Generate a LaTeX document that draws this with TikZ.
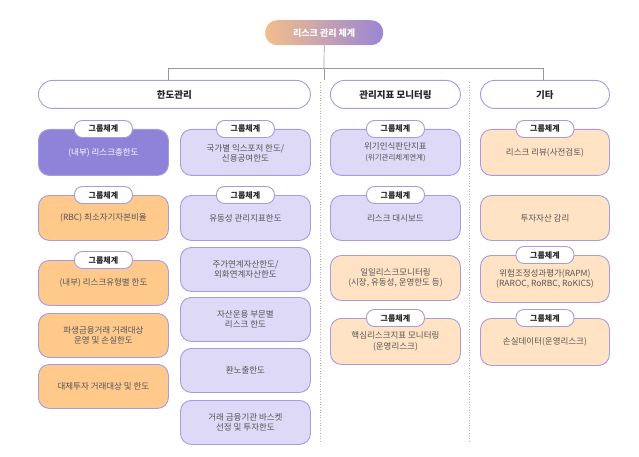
\documentclass[tikz,border=0pt]{standalone}
\usepackage{fontspec}
\setmainfont{Noto Sans CJK KR}
\usetikzlibrary{positioning}
\definecolor{pur}{HTML}{A79BE0}
\definecolor{purfill}{HTML}{8F82D9}
\definecolor{lav}{HTML}{DDD9F6}
\definecolor{org}{HTML}{FFC98C}
\definecolor{orgl}{HTML}{FFE3C4}
\definecolor{txt}{HTML}{555555}
\definecolor{ttl}{HTML}{F2BE8C}
\definecolor{ttr}{HTML}{9A86D4}
\tikzset{
 box/.style={draw=pur,line width=0.9pt,rounded corners=11pt,minimum width=130pt,anchor=north west,align=center,text=txt,font=\fontsize{8.5}{10.5}\selectfont,inner sep=2pt},
 hdr/.style={draw=pur,line width=0.9pt,rounded corners=14pt,fill=white,minimum height=28pt,anchor=north west,font=\bfseries\fontsize{9.5}{11}\selectfont,text=black!85},
 badge/.style={draw=pur,line width=0.9pt,fill=white,rounded corners=8pt,minimum width=58pt,minimum height=17pt,inner sep=1pt,font=\bfseries\fontsize{8}{9}\selectfont,text=black!85},
 conn/.style={draw=black!40,line width=0.7pt},
 sep/.style={draw=black!30,dotted,line width=0.6pt}
}
\begin{document}
\begin{tikzpicture}[x=1pt,y=-1pt]
\useasboundingbox (0,0) rectangle (639,457);
% title
\node[rounded corners=12pt,minimum width=118pt,minimum height=25pt,left color=ttl,right color=ttr,text=white,font=\bfseries\fontsize{9}{10}\selectfont,anchor=north west] (title) at (265,20) {리스크 관리 체계};
% headers
\node[hdr,minimum width=272pt] (h1) at (38,80) {한도관리};
\node[hdr,minimum width=130pt] (h2) at (330,80) {관리지표 모니터링};
\node[hdr,minimum width=129pt] (h3) at (480,80) {기타};
\coordinate (j) at (324,68);
\coordinate (jl) at (168,68);
\coordinate (jr) at (543,68);
\draw[conn] (title.south) -- (j);
\draw[conn] (jl) -- (jr);
\draw[conn] (jl) -- (jl|-h1.north);
\draw[conn] (j) -- (j|-h2.north);
\draw[conn] (jr) -- (jr|-h3.north);
\coordinate (s1t) at (320,82); \coordinate (s1b) at (320,443);
\coordinate (s2t) at (469,82); \coordinate (s2b) at (469,443);
\draw[sep] (s1t) -- (s1b);
\draw[sep] (s2t) -- (s2b);
% column 1
\node[box,fill=purfill,text=white,minimum height=46pt] (a1) at (38,129) {(내부) 리스크총한도};
\node[box,fill=org,minimum height=45pt] (a2) at (38,195) {(RBC) 최소자기자본비율};
\node[box,fill=org,minimum height=45pt] (a3) at (38,260) {(내부) 리스크유형별 한도};
\node[box,fill=org,minimum height=44pt] (a4) at (38,313) {파생금융거래 거래대상\\운영 및 손실한도};
\node[box,fill=org,minimum height=44pt] (a5) at (38,364) {대체투자 거래대상 및 한도};
% column 2
\node[box,fill=lav,minimum height=46pt] (b1) at (180,129) {\\[-2pt]국가별 익스포저 한도/\\신용공여한도};
\node[box,fill=lav,minimum height=45pt] (b2) at (180,195) {유동성 관리지표한도};
\node[box,fill=lav,minimum height=44pt] (b3) at (180,247) {주가연계자산한도/\\외화연계자산한도};
\node[box,fill=lav,minimum height=44pt] (b4) at (180,297) {자산운용 부문별\\리스크 한도};
\node[box,fill=lav,minimum height=44pt] (b5) at (180,348) {환노출한도};
\node[box,fill=lav,minimum height=44pt] (b6) at (180,400) {거래 금융기관 바스켓\\선정 및 투자한도};
% column 3
\node[box,fill=lav,minimum height=46pt] (c1) at (330,129) {위기인식판단지표\\{\fontsize{7.5}{9}\selectfont(위기관리체계연계)}};
\node[box,fill=lav,minimum height=45pt] (c2) at (330,195) {리스크 대시보드};
\node[box,fill=orgl,minimum height=45pt] (c3) at (330,255) {일일리스크모니터링\\(시장, 유동성, 운영한도 등)};
\node[box,fill=orgl,minimum height=46pt] (c4) at (330,318) {핵심리스크지표 모니터링\\(운영리스크)};
% column 4
\node[box,fill=orgl,minimum width=129pt,minimum height=46pt] (d1) at (480,129) {리스크 리뷰(사전검토)};
\node[box,fill=orgl,minimum width=129pt,minimum height=45pt] (d2) at (480,195) {투자자산 감리};
\node[box,fill=orgl,minimum width=129pt,minimum height=47pt] (d3) at (480,255) {위험조정성과평가(RAPM)\\(RAROC, RoRBC, RoKICS)};
\node[box,fill=orgl,minimum width=129pt,minimum height=47pt] (d4) at (480,318) {손실데이터(운영리스크)};
% badges
\foreach \n in {a1,a2,a3,b1,b2,c1,c2,c4,d1,d3,d4}
  \node[badge] (g\n) at (\n.north) {그룹체계};
\end{tikzpicture}
\end{document}
